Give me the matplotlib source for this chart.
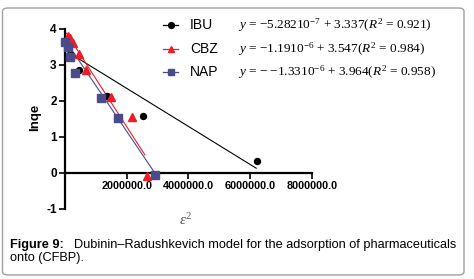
import matplotlib
matplotlib.use("Agg")
import matplotlib.pyplot as plt
import numpy as np
from matplotlib.patches import FancyBboxPatch
from matplotlib.lines import Line2D

plt.rcParams["font.family"] = ["Liberation Sans", "DejaVu Sans"]
plt.rcParams["mathtext.fontset"] = "custom"
plt.rcParams["mathtext.rm"] = "Liberation Serif"
plt.rcParams["mathtext.it"] = "Liberation Serif:italic"

# ─── data ─────────────────────────────────────────────────────────────────────
ibu_x = [0.18e6, 0.46e6, 1.37e6, 2.52e6, 6.21e6]
ibu_y = [3.27, 2.85, 2.14, 1.58, 0.32]

cbz_x = [0.11e6, 0.16e6, 0.27e6, 0.44e6, 0.68e6, 1.48e6, 2.16e6, 2.65e6]
cbz_y = [3.80, 3.74, 3.59, 3.30, 2.85, 2.11, 1.55, -0.10]

nap_x = [0.0, 0.11e6, 0.16e6, 0.33e6, 1.17e6, 1.73e6, 2.93e6]
nap_y = [3.62, 3.48, 3.20, 2.78, 2.08, 1.51, -0.05]

# fitted lines as drawn: slope, intercept, x-range
ibu_fit = (-5.282e-7, 3.40, 0.02e6, 6.20e6)
cbz_fit = (-1.33e-6, 3.94, 0.05e6, 2.59e6)
nap_fit = (-1.27e-6, 3.69, 0.0, 2.93e6)

labels = ["IBU", "CBZ", "NAP"]
equations = [
    r"$y$ = −5.28210$^{-7}$ + 3.337($R^2$ = 0.921)",
    r"$y$ = −1.1910$^{-6}$ + 3.547($R^2$ = 0.984)",
    r"$y$ = − −1.3310$^{-6}$ + 3.964($R^2$ = 0.958)",
]
x_ticks = [2e6, 4e6, 6e6, 8e6]
y_ticks = [-1, 0, 1, 2, 3, 4]

# ─── figure ───────────────────────────────────────────────────────────────────
W, H = 474, 279
fig = plt.figure(figsize=(W / 100, H / 100), dpi=100)

# rounded frame round the whole figure
frame = FancyBboxPatch((2.5 / W, 4 / H), 461.5 / W, 267 / H,
                       boxstyle="round,pad=0,rounding_size=0.012",
                       transform=fig.transFigure, fill=False,
                       edgecolor="#a0a0a0", linewidth=1.0)
fig.patches.append(frame)

ax = fig.add_axes([65 / W, 1 - 208.7 / H, 246.7 / W, 180 / H])
ax.set_xlim(0, 8e6)
ax.set_ylim(-1, 4)

series = [
    (ibu_x, ibu_y, ibu_fit, "black", "o", 4.3),
    (cbz_x, cbz_y, cbz_fit, "#ee1c25", "^", 5.2),
    (nap_x, nap_y, nap_fit, "#4a4a8c", "s", 5.2),
]
for xs, ys, fit, c, mk, ms in series:
    slope, icpt, x0, x1 = fit
    lx = np.array([x0, x1])
    ax.plot(lx, slope * lx + icpt, color=c, linewidth=0.8, clip_on=False)
    ax.plot(xs, ys, linestyle="none", marker=mk, markersize=ms,
            color=c, markeredgecolor=c, clip_on=False, zorder=3)

# axes styling
for s in ("top", "right"):
    ax.spines[s].set_visible(False)
ax.spines["bottom"].set_position(("data", 0))
ax.spines["left"].set_linewidth(1.6)
ax.spines["bottom"].set_linewidth(1.6)
ax.set_xticks(x_ticks)
ax.set_xticklabels([f"{v:.1f}" for v in x_ticks], fontsize=7.8, fontweight="bold")
ax.set_yticks(y_ticks)
ax.set_yticklabels([str(v) for v in y_ticks], fontsize=8.5, fontweight="bold")
ax.tick_params(direction="out", length=4, width=1.2, pad=2)
ax.patch.set_visible(False)

fig.text(35 / W, 1 - 117 / H, "lnqe", rotation=90, ha="center", va="center",
         fontsize=9.5, fontweight="bold")
fig.text(186 / W, 1 - 220 / H, r"$\varepsilon^2$", ha="center", va="center",
         fontsize=11, color="#555555")

# legend with equations
leg_y = [25, 49, 72]
for yy, lab, eq, (_, _, _, c, mk, _) in zip(leg_y, labels, equations, series):
    fy = 1 - yy / H
    fig.add_artist(Line2D([163 / W, 178 / W], [fy, fy], color=c, linewidth=0.9,
                          transform=fig.transFigure))
    fig.add_artist(Line2D([170.5 / W], [fy], color=c, marker=mk, markersize=4.2,
                          linestyle="none", transform=fig.transFigure))
    fig.text(190 / W, fy, lab, ha="left", va="center", fontsize=10)
    fig.text(238 / W, fy, eq, ha="left", va="center", fontsize=9.5,
             family="Liberation Serif")

# caption
fig.text(10 / W, 1 - 245 / H, "Figure 9:", ha="left", va="center",
         fontsize=9.2, fontweight="bold")
fig.text(74 / W, 1 - 245 / H,
         "Dubinin\u2013Radushkevich model for the adsorption of pharmaceuticals",
         ha="left", va="center", fontsize=9.2)
fig.text(10 / W, 1 - 258 / H, "onto (CFBP).", ha="left", va="center",
         fontsize=9.2)

fig.savefig("out.png", dpi=100)
